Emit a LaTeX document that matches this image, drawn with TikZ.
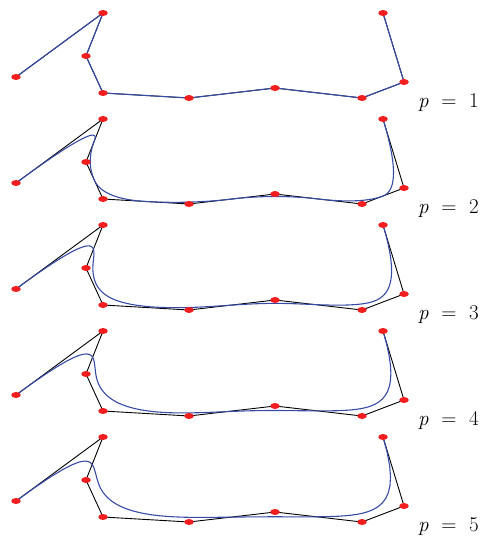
\documentclass[tikz,border=0pt]{standalone}
\usepackage{fontspec}
\usepackage{tikz}
\usetikzlibrary{shapes.geometric,backgrounds}
\definecolor{curveblue}{RGB}{55,75,165}
\definecolor{dotred}{RGB}{240,30,30}

% control points of the top row (x right, y down)
\def\ctrlpts{16/77,103/13,86/56,103/93,189/98,275/88,362/98,404/82,383/13}

% de Boor, clamped uniform knots, 9 control points: degree #1, parameter #2 -> \bx, \by
\newcommand\deboor[2]{%
  \pgfmathtruncatemacro\dbk{min(floor(#2)+#1,8)}%
  \foreach \dbj in {0,...,#1}{%
    \pgfmathtruncatemacro\dbi{\dbj+\dbk-#1}%
    \expandafter\xdef\csname dx\dbj\endcsname{\csname cx\dbi\endcsname}%
    \expandafter\xdef\csname dy\dbj\endcsname{\csname cy\dbi\endcsname}%
  }%
  \foreach \dbr in {1,...,#1}{%
    \foreach \dbj in {#1,...,\dbr}{%
      \pgfmathtruncatemacro\dbi{\dbj+\dbk-#1}%
      \pgfmathtruncatemacro\dbjm{\dbj-1}%
      \pgfmathsetmacro\ua{min(max(\dbi-#1,0),9-#1)}%
      \pgfmathsetmacro\ub{min(max(\dbi+1-\dbr,0),9-#1)}%
      \pgfmathsetmacro\al{(#2-\ua)/(\ub-\ua)}%
      \edef\ax{\csname dx\dbjm\endcsname}\edef\ay{\csname dy\dbjm\endcsname}%
      \edef\bbx{\csname dx\dbj\endcsname}\edef\bby{\csname dy\dbj\endcsname}%
      \pgfmathsetmacro\nx{(1-\al)*\ax+\al*\bbx}%
      \pgfmathsetmacro\ny{(1-\al)*\ay+\al*\bby}%
      \expandafter\xdef\csname dx\dbj\endcsname{\nx}%
      \expandafter\xdef\csname dy\dbj\endcsname{\ny}%
    }%
  }%
  \xdef\bx{\csname dx#1\endcsname}\xdef\by{\csname dy#1\endcsname}%
}

\begin{document}
\begin{tikzpicture}[x=1pt, y=-1pt,
  dot/.style={ellipse, fill=dotred, minimum width=9.5pt, minimum height=6pt, inner sep=0pt},
  ctrl/.style={draw=black, line width=0.9pt},
  curve/.style={draw=curveblue, line width=1.1pt},
  deglabel/.style={anchor=base west, inner sep=0pt, font=\fontsize{21}{25}\selectfont}]
\useasboundingbox (0,0) rectangle (483,536);
\foreach \x/\y [count=\i from 0] in \ctrlpts{
  \expandafter\xdef\csname cx\i\endcsname{\x}
  \expandafter\xdef\csname cy\i\endcsname{\y}
}
\foreach \p in {1,...,5}{
  \pgfmathsetmacro\off{106*(\p-1)}
  \foreach \x/\y [count=\i from 0] in \ctrlpts
    \node[dot] (q\p-\i) at (\x,\y+\off) {};
  \pgfmathtruncatemacro\nsmp{20*(9-\p)}
  \xdef\crv{(\csname cx0\endcsname,\csname cy0\endcsname)}
  \foreach \s in {1,...,\nsmp}{
    \pgfmathsetmacro\tt{\s*(9-\p)/\nsmp}
    \deboor{\p}{\tt}
    \xdef\crv{\crv -- (\bx,\by)}
  }
  \begin{scope}[on background layer]
    \draw[ctrl] (q\p-0.center) \foreach \i in {1,...,8}{ -- (q\p-\i.center)};
    \begin{scope}[shift={(0,\off)}]
      \edef\dodraw{\noexpand\draw[curve] \crv;}\dodraw
    \end{scope}
  \end{scope}
  \node[deglabel] (lab\p) at (418,107+\off) {\textit{p}\hspace{0.6em}=\hspace{0.6em}\p};
}
\end{tikzpicture}
\end{document}
